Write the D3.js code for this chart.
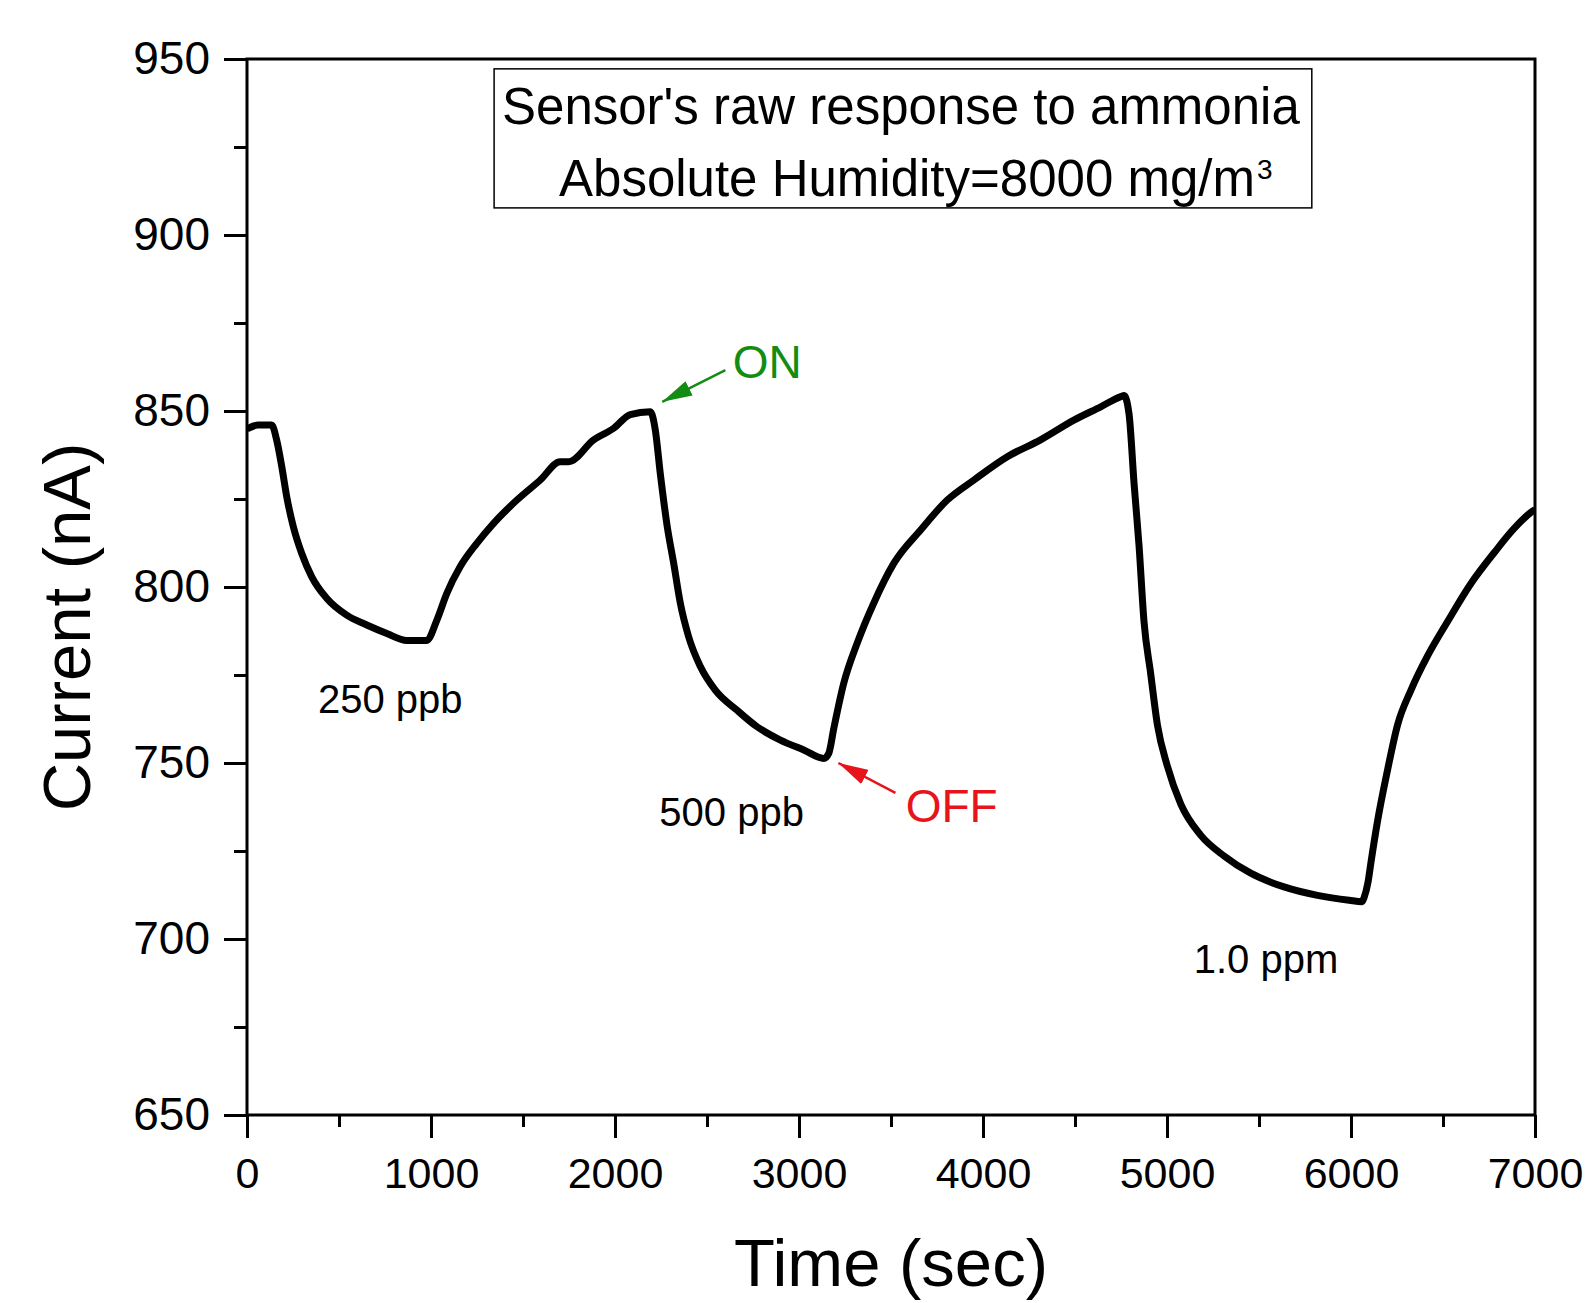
<!DOCTYPE html>
<html>
<head>
<meta charset="utf-8">
<script src="https://cdn.jsdelivr.net/npm/d3@7"></script>
<style>
  body { margin: 0; background: #fff; }
  svg { display: block; font-family: "Liberation Sans", Arial, sans-serif; }
</style>
</head>
<body>
<div id="chart"></div>
<script>
// sensor readings (sec, nA)
let timeSec = [
  0, 60, 134, 161, 189, 216, 252, 297, 352, 433, 542, 651, 760, 869, 977,
  1032, 1086, 1159, 1249, 1340, 1467, 1594, 1702, 1748, 1884, 1993, 2083, 2192,
  2219, 2246, 2283, 2319, 2355, 2400, 2464, 2545, 2663, 2772, 2899, 3026, 3135, 3162,
  3189, 3243, 3316, 3406, 3515, 3661, 3806, 3951, 4132, 4313, 4494, 4640, 4749, 4767,
  4794, 4821, 4848, 4875, 4911, 4948, 5002, 5075, 5183, 5310, 5455, 5636, 5818, 5990, 6060,
  6072, 6092, 6108, 6144, 6199, 6253, 6326, 6416, 6525, 6652, 6779, 6888, 6988, 7000
]
let currentNA = [
  844.9, 846, 846, 841.8, 834.2, 825.6, 817.1, 809.6, 802.9, 796.8, 792, 789.2, 786.8, 784.8, 784.8,
  790.6, 798.2, 805.8, 812.4, 818.1, 824.7, 830.4, 835.6, 835.6, 841.8, 845.1, 849, 849.8,
  844.6, 832.3, 817.5, 806.7, 795.4, 785.9, 777.4, 770.7, 765, 760.3, 756.5, 753.7, 751.3, 752.8,
  759.8, 772.6, 784, 795.4, 806.7, 816.2, 824.7, 830.4, 837, 841.8, 847.4, 851.2, 854.1, 854.4,
  849, 829.4, 811.8, 790.2, 775.5, 760.8, 749.1, 738.3, 729.5, 723.6, 718.7, 714.8, 712.4, 711, 710.6,
  711.9, 716, 721.6, 733.4, 748.1, 760.8, 770.7, 780.4, 790.2, 801, 809.8, 816.7, 821.6, 822
]

let xMajorTicks = [0, 1000, 2000, 3000, 4000, 5000, 6000, 7000]
let xMinorTicks = [500, 1500, 2500, 3500, 4500, 5500, 6500]
let yMajorTicks = [650, 700, 750, 800, 850, 900, 950]
let yMinorTicks = [675, 725, 775, 825, 875, 925]

let titleLines = ["Sensor's raw response to ammonia", "Absolute Humidity=8000 mg/m"]
let concLabels = ["250 ppb", "500 ppb", "1.0 ppm"]
let switchLabels = ["ON", "OFF"]

let width = 1590, height = 1303
let margin = { top: 59, right: 55, bottom: 188, left: 247 }

let svg = d3.select("#chart").append("svg")
  .attr("width", width)
  .attr("height", height)

let x = d3.scaleLinear().domain([0, 7000]).range([margin.left, width - margin.right])
let y = d3.scaleLinear().domain([650, 950]).range([height - margin.bottom, margin.top])

// arrow heads
let defs = svg.append("defs")
let arrowHead = (id, color) => {
  defs.append("marker")
    .attr("id", id)
    .attr("viewBox", "0 0 30 16")
    .attr("refX", 30).attr("refY", 8)
    .attr("markerWidth", 30).attr("markerHeight", 16)
    .attr("markerUnits", "userSpaceOnUse")
    .attr("orient", "auto")
    .append("path")
    .attr("d", "M0,0 L30,8 L0,16 Z")
    .attr("fill", color)
}
arrowHead("arrGreen", "#138c13")
arrowHead("arrRed", "#e8141c")

defs.append("clipPath").attr("id", "plotClip")
  .append("rect")
  .attr("x", margin.left).attr("y", margin.top)
  .attr("width", x.range()[1] - margin.left)
  .attr("height", y.range()[0] - margin.top)

// minor ticks first, no labels
svg.append("g")
  .attr("transform", "translate(" + margin.left + ",0)")
  .call(d3.axisLeft(y).tickValues(yMinorTicks).tickSize(13).tickFormat(""))
svg.append("g")
  .attr("transform", "translate(0," + y.range()[0] + ")")
  .call(d3.axisBottom(x).tickValues(xMinorTicks).tickSize(12).tickFormat(""))

let gY = svg.append("g")
  .attr("transform", "translate(" + margin.left + ",0)")
  .call(d3.axisLeft(y).tickValues(yMajorTicks).tickSize(23).tickPadding(14).tickFormat(d3.format("d")))
let gX = svg.append("g")
  .attr("transform", "translate(0," + y.range()[0] + ")")
  .call(d3.axisBottom(x).tickValues(xMajorTicks).tickSize(23).tickPadding(19).tickFormat(d3.format("d")))

svg.selectAll(".domain").remove()
svg.selectAll(".tick line").attr("stroke", "#000").attr("stroke-width", 3)
svg.selectAll(".tick text")
  .attr("fill", "#000")
  .style("font-family", "'Liberation Sans', Arial, sans-serif")
gY.selectAll("text").style("font-size", "46px")
gX.selectAll("text").style("font-size", "43px")

// frame round the plot
svg.append("rect")
  .attr("x", margin.left).attr("y", margin.top)
  .attr("width", x.range()[1] - margin.left)
  .attr("height", y.range()[0] - margin.top)
  .attr("fill", "none")
  .attr("stroke", "#000")
  .attr("stroke-width", 3)

// the response curve
let line = d3.line()
  .x((d, i) => x(timeSec[i]))
  .y(d => y(d))
  .curve(d3.curveMonotoneX)

svg.append("path")
  .datum(currentNA)
  .attr("clip-path", "url(#plotClip)")
  .attr("d", line)
  .attr("fill", "none")
  .attr("stroke", "#000")
  .attr("stroke-width", 7)
  .attr("stroke-linejoin", "miter")

// title box
let box = svg.append("g")
box.append("rect")
  .attr("x", x(1343)).attr("y", y(947.2))
  .attr("width", x(5787) - x(1343))
  .attr("height", y(907.7) - y(947.2))
  .attr("fill", "#fff")
  .attr("stroke", "#000")
  .attr("stroke-width", 1.5)
box.append("text")
  .attr("x", 502).attr("y", 124)
  .style("font-size", "51px")
  .text(titleLines[0])
let line2 = box.append("text")
  .attr("x", 559).attr("y", 196)
  .style("font-size", "51px")
  .text(titleLines[1])
line2.append("tspan")
  .attr("dx", 2)
  .attr("dy", -17)
  .style("font-size", "28px")
  .text("3")

// concentration labels
let concPos = [[386, 764.2], [2241, 732.1], [5145, 690.3]]
svg.selectAll(".conc")
  .data(concLabels)
  .enter()
  .append("text")
  .attr("class", "conc")
  .attr("x", (d, i) => x(concPos[i][0]))
  .attr("y", (d, i) => y(concPos[i][1]))
  .style("font-size", "40px")
  .text(d => d)

// ON / OFF arrows
svg.append("line")
  .attr("x1", x(2600)).attr("y1", y(861.6))
  .attr("x2", x(2257)).attr("y2", y(852.6))
  .attr("stroke", "#138c13").attr("stroke-width", 2.5)
  .attr("marker-end", "url(#arrGreen)")
svg.append("text")
  .attr("x", x(2640)).attr("y", y(859.4))
  .attr("fill", "#138c13")
  .style("font-size", "46px")
  .text(switchLabels[0])

svg.append("line")
  .attr("x1", x(3524)).attr("y1", y(741.5))
  .attr("x2", x(3214)).attr("y2", y(750))
  .attr("stroke", "#e8141c").attr("stroke-width", 2.5)
  .attr("marker-end", "url(#arrRed)")
svg.append("text")
  .attr("x", x(3580)).attr("y", y(733.2))
  .attr("fill", "#e8141c")
  .style("font-size", "46px")
  .text(switchLabels[1])

// axis titles
svg.append("text")
  .attr("x", (margin.left + x.range()[1]) / 2)
  .attr("y", 1286)
  .attr("text-anchor", "middle")
  .style("font-size", "67px")
  .text("Time (sec)")

svg.append("text")
  .attr("transform", "translate(90,627) rotate(-90)")
  .attr("text-anchor", "middle")
  .style("font-size", "67px")
  .text("Current (nA)")
</script>
</body>
</html>
